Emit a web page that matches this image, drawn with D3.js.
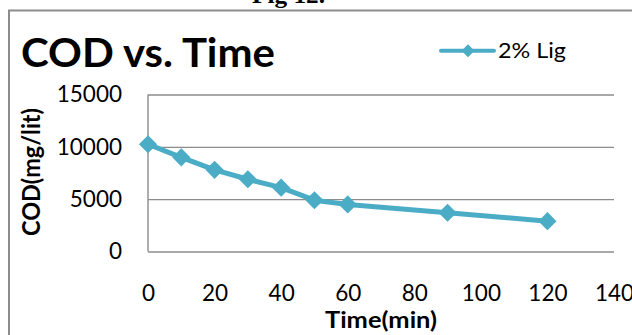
<!DOCTYPE html>
<html>
<head>
<meta charset="utf-8">
<script src="https://cdn.jsdelivr.net/npm/d3@7"></script>
<style>
  html, body { margin: 0; padding: 0; background: #fff; }
  svg { display: block; }
  text { font-family: Lato, "Open Sans", sans-serif; fill: #000; }
</style>
</head>
<body>
<svg id="chart" width="632" height="335"></svg>
<script>
// COD of the 2% lignin sample over reaction time
const timeMin = [0, 10, 20, 30, 40, 50, 60, 90, 120];
const codMgPerLit = [10250, 9000, 7800, 6900, 6100, 4900, 4500, 3700, 2900];
const seriesName = "2% Lig";
const xTicks = [0, 20, 40, 60, 80, 100, 120, 140];
const yTicks = [0, 5000, 10000, 15000];

const svg = d3.select("#chart");
const color = "#4bacc6";
const grid = "#8c8c8c";
const tickFont = "22.5px";

const plotLeft = 148, plotRight = 614, plotTop = 94.5, plotBottom = 251.5;
const x = d3.scaleLinear().domain([0, 140]).range([plotLeft, plotRight]);
const y = d3.scaleLinear().domain([0, 15000]).range([plotBottom, plotTop]);

// caption above the chart frame (its top runs off the page)
svg.append("text")
  .attr("x", 252).attr("y", 3)
  .attr("textLength", 73).attr("lengthAdjust", "spacingAndGlyphs")
  .style("font-family", "'Liberation Serif', 'Times New Roman', serif")
  .style("font-weight", "bold").style("font-size", "24px")
  .text("Fig 12.");

// chart frame (continues past the right and bottom edges)
svg.append("path")
  .attr("d", "M9,340 V10.5 H640")
  .attr("fill", "none").attr("stroke", grid).attr("stroke-width", 2);

// horizontal gridlines with y tick labels
const yAxis = svg.append("g")
  .attr("transform", `translate(${plotLeft},0)`)
  .call(d3.axisLeft(y).tickValues(yTicks).tickSize(-(plotRight - plotLeft)).tickPadding(26).tickFormat(d3.format("d")));
yAxis.select(".domain").remove();
yAxis.selectAll("line").attr("stroke", grid).attr("stroke-width", 1.4);
yAxis.selectAll("text").style("font-family", "Lato, sans-serif").style("font-size", tickFont).attr("fill", "#000");

// vertical axis line
svg.append("line")
  .attr("x1", x(0)).attr("x2", x(0)).attr("y1", y(15000)).attr("y2", y(0))
  .attr("stroke", grid).attr("stroke-width", 1.4);

// x tick labels
const xAxis = svg.append("g")
  .attr("transform", `translate(0,${plotBottom})`)
  .call(d3.axisBottom(x).tickValues(xTicks).tickSize(0).tickPadding(33.5));
xAxis.select(".domain").remove();
xAxis.selectAll("text").style("font-family", "Lato, sans-serif").style("font-size", tickFont).attr("fill", "#000");

// series line
svg.append("path")
  .datum(timeMin.map((t, i) => [t, codMgPerLit[i]]))
  .attr("fill", "none").attr("stroke", color).attr("stroke-width", 5)
  .attr("stroke-linejoin", "round")
  .attr("d", d3.line().x(d => x(d[0])).y(d => y(d[1])));

// diamond markers
const diamond = d3.symbol().type(d3.symbolSquare).size(165);
svg.append("g").selectAll("path")
  .data(timeMin.map((t, i) => [t, codMgPerLit[i]]))
  .join("path")
  .attr("d", diamond)
  .attr("transform", d => `translate(${x(d[0])},${y(d[1])}) rotate(45)`)
  .attr("fill", color);

// title
svg.append("text")
  .attr("x", 21).attr("y", 67)
  .attr("textLength", 254).attr("lengthAdjust", "spacingAndGlyphs")
  .style("font-weight", "bold").style("font-size", "40px")
  .text("COD vs. Time");

// legend
svg.append("line")
  .attr("x1", 441).attr("x2", 494).attr("y1", 50.7).attr("y2", 50.7)
  .attr("stroke", color).attr("stroke-width", 4).attr("stroke-linecap", "round");
svg.append("path")
  .attr("d", d3.symbol().type(d3.symbolSquare).size(85))
  .attr("transform", "translate(468,50.7) rotate(45)")
  .attr("fill", color);
svg.append("text")
  .attr("x", 498).attr("y", 58.3)
  .attr("textLength", 68).attr("lengthAdjust", "spacingAndGlyphs")
  .style("font-size", "22px")
  .text(seriesName);

// axis titles
svg.append("text")
  .attr("transform", "translate(39.5,172) rotate(-90)")
  .attr("text-anchor", "middle")
  .attr("textLength", 128).attr("lengthAdjust", "spacingAndGlyphs")
  .style("font-weight", "bold").style("font-size", "24px")
  .text("COD(mg/lit)");
svg.append("text")
  .attr("x", 381).attr("y", 328)
  .attr("text-anchor", "middle")
  .attr("textLength", 112).attr("lengthAdjust", "spacingAndGlyphs")
  .style("font-weight", "bold").style("font-size", "23px")
  .text("Time(min)");
</script>
</body>
</html>
